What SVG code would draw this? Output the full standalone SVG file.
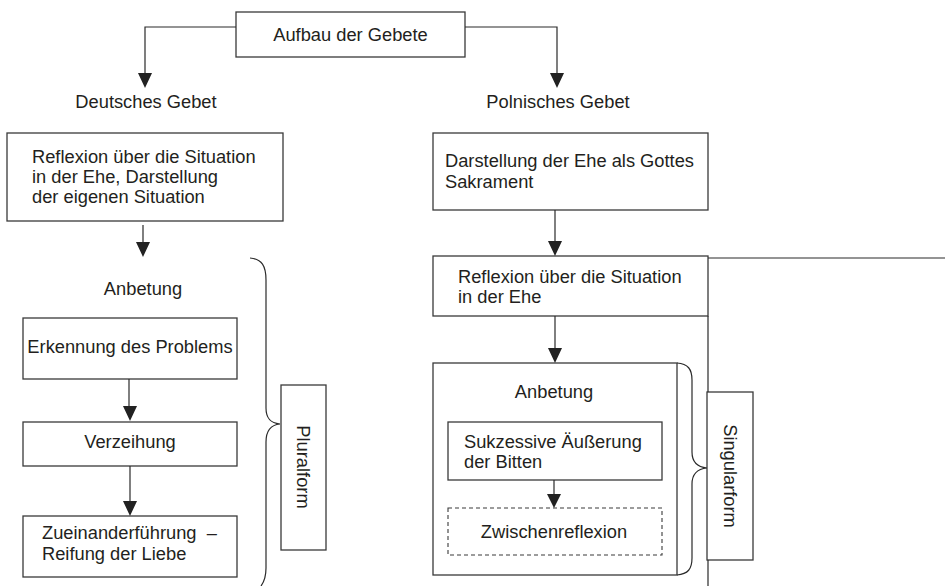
<svg xmlns="http://www.w3.org/2000/svg" width="945" height="586" viewBox="0 0 945 586">
<defs>
<style>
.box{fill:#fff;stroke:#3a3a3a;stroke-width:1.3}
.dash{fill:#fff;stroke:#3a3a3a;stroke-width:1.1;stroke-dasharray:4,3}
.ln{fill:none;stroke:#2a2a2a;stroke-width:1.2}
.ah{fill:#222}
text{font-family:"Liberation Sans",Arial,sans-serif;font-size:18.3px;fill:#231f20}
.c{text-anchor:middle}
</style>
</defs>
<g id="n-aufbau"><rect class="box" x="236" y="12" width="229" height="45"/><text class="c" x="350.5" y="41">Aufbau der Gebete</text></g>
<g id="n-deutsch"><text class="c" x="146" y="108">Deutsches Gebet</text></g>
<g id="n-polnisch"><text class="c" x="558" y="108">Polnisches Gebet</text></g>
<g id="n-reflexion1"><rect class="box" x="7" y="133" width="276" height="88"/><text x="32" y="163">Reflexion über die Situation</text><text x="32" y="183">in der Ehe, Darstellung</text><text x="32" y="203">der eigenen Situation</text></g>
<g id="n-anbetung1"><text class="c" x="143" y="295">Anbetung</text></g>
<g id="n-erkennung"><rect class="box" x="23" y="318" width="214" height="61"/><text class="c" x="130" y="353">Erkennung des Problems</text></g>
<g id="n-verzeihung"><rect class="box" x="23" y="422" width="214" height="44"/><text class="c" x="130" y="448">Verzeihung</text></g>
<g id="n-zueinander"><rect class="box" x="23" y="516" width="214" height="61"/><text x="42" y="539">Zueinanderführung&#160; –</text><text x="42" y="560">Reifung der Liebe</text></g>
<g id="n-plural"><rect class="box" x="281" y="385" width="45" height="165"/><text class="c" transform="translate(303.5,467) rotate(90)" x="0" y="0" dominant-baseline="central">Pluralform</text></g>
<g id="n-darstellung"><rect class="box" x="433" y="133" width="275" height="77"/><text x="445" y="167">Darstellung der Ehe als Gottes</text><text x="445" y="188">Sakrament</text></g>
<g id="n-reflexion2"><rect class="box" x="433" y="256" width="275" height="60"/><text x="458" y="283">Reflexion über die Situation</text><text x="458" y="303">in der Ehe</text></g>
<g id="n-anbetung2"><rect class="box" x="433" y="363" width="244" height="212"/><text class="c" x="554" y="398">Anbetung</text></g>
<g id="n-sukzessive"><rect class="box" x="448" y="422" width="214" height="58"/><text x="464" y="448">Sukzessive Äußerung</text><text x="464" y="468">der Bitten</text></g>
<g id="n-zwischen"><rect class="dash" x="448" y="508" width="214" height="47"/><text class="c" x="554" y="538">Zwischenreflexion</text></g>
<g id="n-singular"><rect class="box" x="707" y="392" width="46" height="168"/><text class="c" transform="translate(730,476) rotate(90)" x="0" y="0" dominant-baseline="central">Singularform</text></g>
<g id="connectors">
<path class="ln" d="M236,27 H145 V73"/>
<path class="ah" d="M138,73 L152,73 L145,88 Z"/>
<path class="ln" d="M465,27 H557 V73"/>
<path class="ah" d="M550,73 L564,73 L557,88 Z"/>
<path class="ln" d="M143,225 V242"/>
<path class="ah" d="M136,242 L150,242 L143,257 Z"/>
<path class="ln" d="M129,379 V406"/>
<path class="ah" d="M123,406 L137,406 L130,421 Z"/>
<path class="ln" d="M130,466 V501"/>
<path class="ah" d="M123,501 L137,501 L130,516 Z"/>
<path class="ln" d="M555,210 V241"/>
<path class="ah" d="M548,241 L562,241 L555,256 Z"/>
<path class="ln" d="M555,316 V348"/>
<path class="ah" d="M548,348 L562,348 L555,363 Z"/>
<path class="ln" d="M554,480 V494"/>
<path class="ah" d="M547,494 L561,494 L554,508 Z"/>
<path class="ln" d="M708,258 H945"/>
<path class="ln" d="M708,316 V392 M708,560 V586"/>
<path class="ln" d="M250,258 C262,259 266,266 266,280 V408 C266,418 270,423 280,424 C270,425 266,431 266,442 V568 C266,576 264,582 261,586"/>
<path class="ln" d="M677,363 C688,364 692,369 692,380 V452 C692,462 697,467 707,468 C697,469 692,474 692,484 V558 C692,569 688,574 677,575"/>
</g>
</svg>
